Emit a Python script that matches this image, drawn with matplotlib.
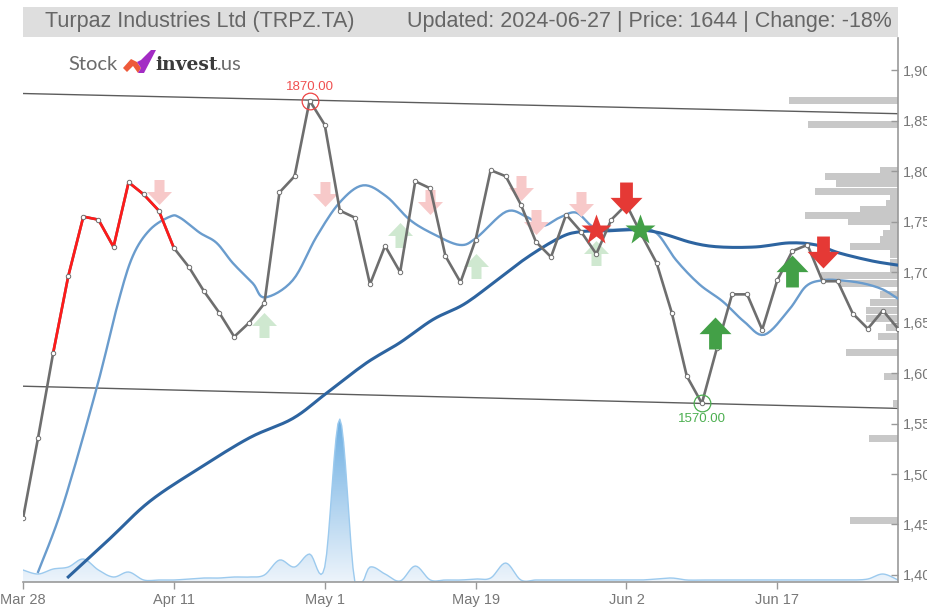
import numpy as np
import matplotlib
matplotlib.use("Agg")
import matplotlib.pyplot as plt
from matplotlib.patches import Rectangle, Polygon, PathPatch
from matplotlib.transforms import Affine2D
from matplotlib.colors import LinearSegmentedColormap

plt.rcParams['font.family'] = ['Liberation Sans', 'DejaVu Sans']

# closing prices, one per trading day (index 0 = Mar 28)
price = [1456, 1536, 1620, 1696, 1755, 1752, 1725, 1789, 1777, 1761,
         1724, 1705, 1681, 1660, 1636, 1650, 1669, 1779, 1795, 1870,
         1846, 1761, 1754, 1688, 1726, 1700, 1790, 1783, 1716, 1690,
         1732, 1801, 1795, 1767, 1730, 1715, 1757, 1740, 1718, 1752,
         1767, 1737, 1709, 1660, 1597, 1570, 1625, 1678, 1678, 1643,
         1692, 1721, 1727, 1691, 1691, 1659, 1644, 1662, 1644]
red_from, red_to = 2, 10

tick_pos = [0, 10, 20, 30, 40, 50]
tick_labels = ["Mar 28", "Apr 11", "May 1", "May 19", "Jun 2", "Jun 17"]

# short moving average
ma_short_x = [1.0, 2.65, 4.88, 6.31, 7.28, 8.41, 9.74, 10.4, 11.72, 12.83, 13.91,
              15.23, 16.03, 17.88, 19.45, 20.99, 22.54, 24.09, 25.63, 27.17, 28.94,
              30.05, 32.03, 33.36, 34.46, 35.56, 36.67, 37.77, 38.87, 40.64, 41.97,
              43.29, 44.83, 46.38, 47.8, 49.14, 50.79, 51.9, 53.0, 54.1, 55.65,
              56.97, 57.97]
ma_short = [1403, 1469, 1585, 1670, 1716, 1742, 1755, 1754, 1739, 1729, 1709,
            1689, 1675, 1692, 1735, 1769, 1786, 1775, 1752, 1738, 1727,
            1734, 1760, 1755, 1746, 1754, 1759, 1745, 1742, 1743, 1739,
            1712, 1688, 1671, 1651, 1638, 1663, 1686, 1692, 1692, 1689,
            1683, 1674]

# long moving average
ma_long_x = [3.0, 5.76, 8.41, 11.72, 15.03, 17.88, 20.11, 22.76, 24.97, 27.17,
             29.21, 31.15, 33.36, 35.56, 36.89, 38.87, 40.64, 42.19, 44.39, 46.16,
             48.59, 50.79, 52.56, 54.1, 56.31, 57.97]
ma_long = [1398, 1436, 1473, 1506, 1536, 1555, 1580, 1610, 1630, 1653,
           1668, 1689, 1714, 1734, 1740, 1741, 1742, 1739, 1729, 1725,
           1725, 1729, 1727, 1719, 1711, 1707]

# volume (relative)
volume = [12, 8, 13, 15, 23, 12, 5, 10, 2, 2,
          2, 3, 4, 4, 5, 5, 7, 22, 15, 28,
          15, 163, 0, 15, 8, 1, 16, 2, 2, 2,
          3, 4, 19, 2, 2, 2, 2, 2, 2, 2,
          2, 2, 3, 4, 2, 2, 2, 2, 2, 2,
          2, 2, 2, 2, 2, 2, 3, 8, 2]

# volume profile on the right
prof_price = [1870, 1846, 1801, 1795, 1788, 1780, 1774, 1768, 1762, 1756,
              1750, 1745, 1738, 1732, 1725, 1718, 1710, 1704, 1697, 1689,
              1678, 1670, 1662, 1654, 1645, 1636, 1620, 1597, 1570, 1535,
              1454]
prof_vol = [109, 90, 18, 73, 62, 83, 8, 12, 38, 93,
            50, 8, 15, 18, 48, 8, 8, 8, 77, 58,
            18, 28, 32, 32, 12, 20, 52, 14, 5, 29,
            48]

# trend channel (start / end)
upper_trend = [1877, 1857]
lower_trend = [1587, 1565]

# signals (index, price)
weak_sell = [(9, 1779), (20, 1777), (27, 1770), (33, 1783), (34, 1750), (37, 1768)]
weak_buy = [(16, 1648), (25, 1737), (30, 1706), (38, 1719)]
strong_sell = [(40, 1773), (53, 1720)]
strong_buy = [(45.9, 1640), (51, 1701)]
star_sell = [(37.95, 1742)]
star_buy = [(40.9, 1742)]

hi_idx, lo_idx = 19, 45


def smooth(xs, ys, k=8):
    # catmull-rom curve through the points, only for drawing
    xs = np.asarray(xs, float)
    ys = np.asarray(ys, float)
    px_ = np.concatenate([[xs[0]], xs, [xs[-1]]])
    py_ = np.concatenate([[ys[0]], ys, [ys[-1]]])
    t = np.linspace(0, 1, k, endpoint=False)
    ox, oy = [], []
    for i in range(1, len(px_) - 2):
        for arr, out in ((px_, ox), (py_, oy)):
            p0, p1, p2, p3 = arr[i - 1], arr[i], arr[i + 1], arr[i + 2]
            out.extend(0.5 * (2 * p1 + (-p0 + p2) * t + (2 * p0 - 5 * p1 + 4 * p2 - p3) * t ** 2
                              + (-p0 + 3 * p1 - 3 * p2 + p3) * t ** 3))
    ox.append(xs[-1])
    oy.append(ys[-1])
    return np.array(ox), np.clip(np.array(oy), 0, None)


W, H = 928, 610
fig = plt.figure(figsize=(W / 100, H / 100), dpi=100)
px = Affine2D().scale(1 / W, -1 / H).translate(0, 1) + fig.transFigure

rect = [23 / W, 28 / H, 875 / W, 544 / H]
ax_vol = fig.add_axes(rect)
ax_prof = fig.add_axes(rect)
ax = fig.add_axes(rect)

ymin, ymax = 1393, 1932
n = len(price)
x = np.arange(n)

# volume with vertical gradient
vmax = max(volume)
ax_vol.axis('off')
vx, vy = smooth(x, volume)
poly = ax_vol.fill_between(vx, vy, 0, color='none')
clip = PathPatch(poly.get_paths()[0], transform=ax_vol.transData, facecolor='none', edgecolor='none')
ax_vol.add_patch(clip)
cmap = LinearSegmentedColormap.from_list('v', ['#edf4fb', '#6caee2'])
grad = np.linspace(0, 1, 256).reshape(-1, 1)
im = ax_vol.imshow(grad, extent=[0, n - 1, 0, vmax], origin='lower', aspect='auto', cmap=cmap)
im.set_clip_path(clip)
ax_vol.plot(vx, vy, color='#9ccaee', lw=1.0)
ax_vol.set_xlim(0, n - 1)
ax_vol.set_ylim(0, vmax * 3.34)

# volume profile
ax_prof.axis('off')
ax_prof.barh(prof_price, prof_vol, height=7, color='#c8c8c8', left=0)
ax_prof.set_xlim(max(prof_vol) * 8.03, 0)
ax_prof.set_ylim(ymin, ymax)

# main axes
ax.patch.set_visible(False)
ax.plot([0, n - 1], upper_trend, color='#5c5c5c', lw=1.0, zorder=2)
ax.plot([0, n - 1], lower_trend, color='#5c5c5c', lw=1.0, zorder=2)
sx, sy = smooth(ma_short_x, ma_short)
ax.plot(sx, sy, color='#6a9ccd', lw=1.7, zorder=3)
lx, ly = smooth(ma_long_x, ma_long)
ax.plot(lx, ly, color='#2d64a0', lw=2.2, zorder=3)

down_v = [(-0.2, 0.5), (0.2, 0.5), (0.2, 0.02), (0.5, 0.02), (0, -0.5),
          (-0.5, 0.02), (-0.2, 0.02), (-0.2, 0.5)]
up_v = [(a, -b) for a, b in down_v]


def sig(pts, marker, ms, color, z):
    xs, ys = zip(*pts)
    ax.plot(xs, ys, linestyle='none', marker=marker, ms=ms, mfc=color, mec='none', zorder=z)


sig(weak_sell, down_v, 18, '#f7c9c9', 4)
sig(weak_buy, up_v, 18, '#cfe8d0', 4)

ax.plot(x, price, color='#6e6e6e', lw=1.9, zorder=5)
ax.plot(x[red_from:red_to + 1], price[red_from:red_to + 1], color='#ff1a1a', lw=1.9, zorder=5)
ax.plot(x, price, linestyle='none', marker='o', ms=3.2, mfc='white', mec='#6e6e6e', mew=0.7, zorder=6)

sig(strong_sell, down_v, 23, '#e53935', 7)
sig(strong_buy, up_v, 23, '#43a047', 7)
sig(star_sell, '*', 23, '#e53935', 7)
sig(star_buy, '*', 23, '#43a047', 7)

ax.plot(hi_idx, price[hi_idx], 'o', ms=12, mfc='none', mec='#ee4444', mew=0.9, zorder=7)
ax.plot(lo_idx, price[lo_idx], 'o', ms=12, mfc='none', mec='#4caf50', mew=0.9, zorder=7)
ax.annotate(f"{price[hi_idx]:.2f}", (hi_idx, price[hi_idx]), xytext=(0, 9.5),
            textcoords='offset points', ha='center', va='center', color='#f05050', fontsize=9.5)
ax.annotate(f"{price[lo_idx]:.2f}", (lo_idx, price[lo_idx]), xytext=(0, -11),
            textcoords='offset points', ha='center', va='center', color='#4caf50', fontsize=9.5)

ax.set_xlim(0, n - 1)
ax.set_ylim(ymin, ymax)
ax.set_xticks(tick_pos)
ax.set_xticklabels(tick_labels)
ax.set_yticks(np.arange(1400, 1901, 50))
ax.yaxis.set_major_formatter(matplotlib.ticker.FuncFormatter(lambda v, p: f"{v:,.0f}"))
ax.yaxis.tick_right()
for s in ['left', 'top']:
    ax.spines[s].set_visible(False)
for s in ['right', 'bottom']:
    ax.spines[s].set_color('#999999')
    ax.spines[s].set_linewidth(1.2)
ax.tick_params(axis='y', direction='in', length=5, width=1, color='#999999',
               labelcolor='#777777', labelsize=10.5, pad=3.6)
ax.tick_params(axis='x', direction='out', length=5, width=1, color='#999999',
               labelcolor='#777777', labelsize=10.5, pad=3)

# title bar
fig.patches.append(Rectangle((23, 7), 875, 30, transform=px, facecolor='#dedede', edgecolor='none'))
fig.text(45, 22, "Turpaz Industries Ltd (TRPZ.TA)", transform=px, fontsize=15.5,
         color='#666666', va='center', ha='left')
fig.text(892, 22, "Updated: 2024-06-27 | Price: 1644 | Change: -18%", transform=px,
         fontsize=15.5, color='#666666', va='center', ha='right')

# logo
fig.text(68, 65, "Stock", transform=px, fontsize=14.5, color='#6b6b6b', va='center',
         ha='left', family='Lato')
fig.patches.append(Polygon([(123, 68), (131, 59), (137, 62), (141, 68), (138, 73), (133, 66), (127, 72)],
                           closed=True, transform=px, facecolor='#ee5a3a', edgecolor='none'))
fig.patches.append(Polygon([(137, 62), (141, 60), (151, 50), (156, 50), (144, 73), (138, 73), (141, 68)],
                           closed=True, transform=px, facecolor='#a32cc4', edgecolor='none'))
fig.text(155, 65, "invest", transform=px, fontsize=13.5, color='#3a3a3a', va='center',
         ha='left', family='DejaVu Serif', fontweight='bold')
fig.text(217, 65, ".us", transform=px, fontsize=14.5, color='#6b6b6b', va='center',
         ha='left', family='Lato')

fig.savefig("out.png", dpi=100)
